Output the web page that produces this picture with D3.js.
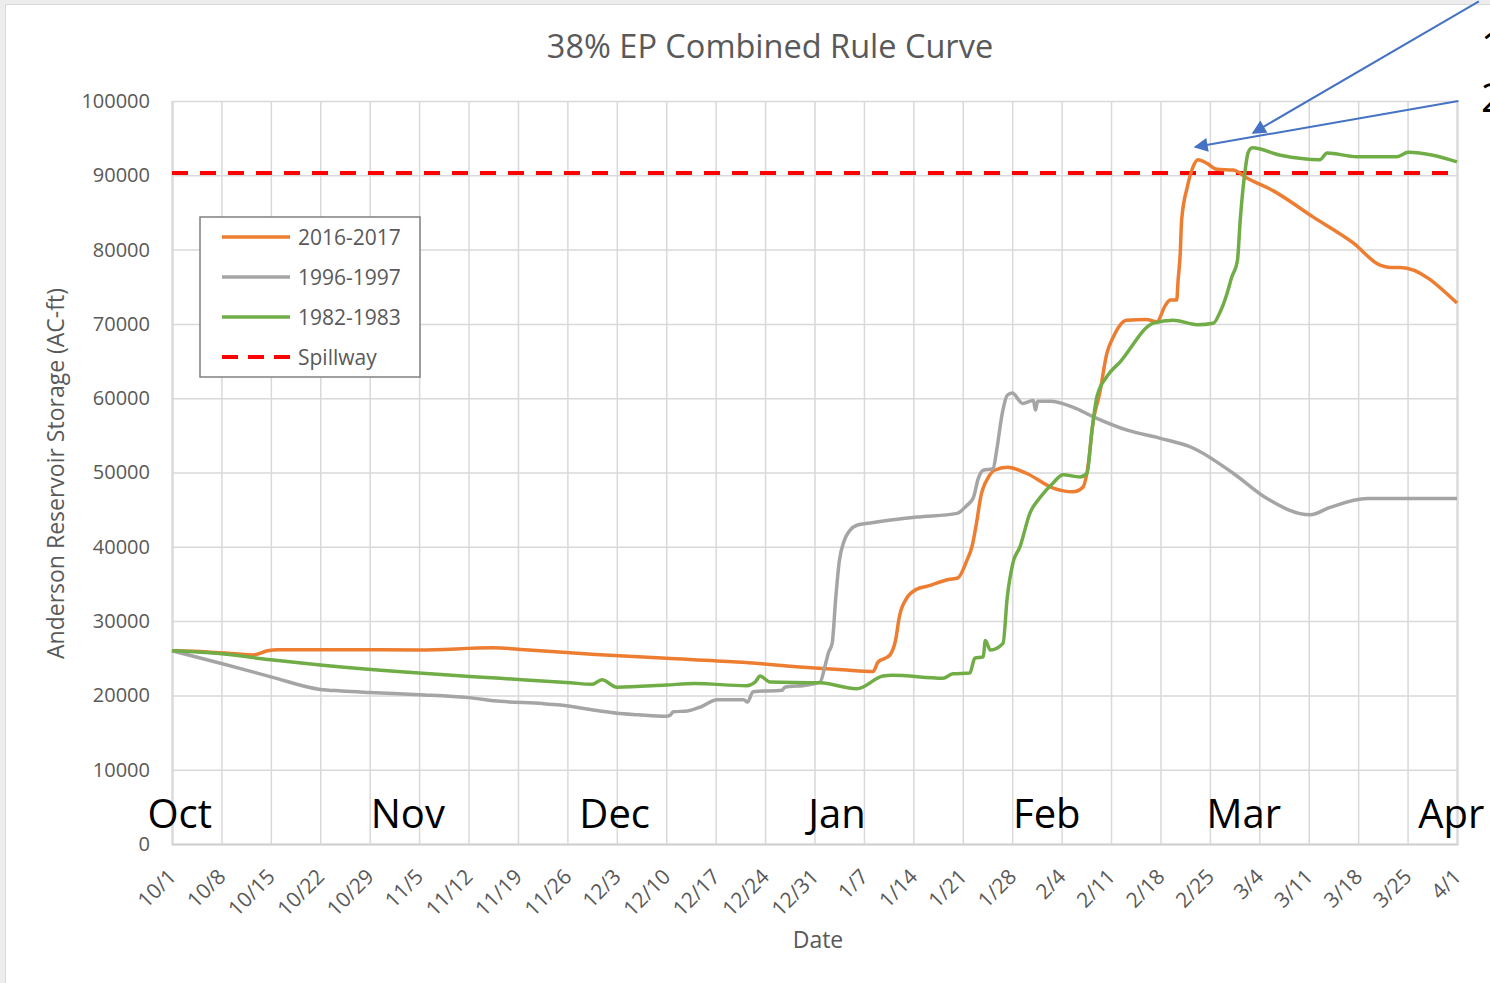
<!DOCTYPE html>
<html>
<head>
<meta charset="utf-8">
<script src="https://cdnjs.cloudflare.com/ajax/libs/d3/7.8.5/d3.min.js"></script>
<style>
  body { margin: 0; background: #ededed; overflow: hidden; }
  svg { display: block; font-family: "Open Sans", "Noto Sans", sans-serif; }
</style>
</head>
<body>
<div id="chart"></div>
<script>
// days since 10/1, storage in AC-ft
const storage1617 = [
  [0, 26000], [5, 25850], [9, 25600], [11.5, 25450], [13.5, 26000], [15, 26150], [25, 26150],
  [35, 26100], [45.5, 26400], [50, 26150], [60, 25500], [70, 25000], [80, 24500], [91, 23700],
  [95, 23450], [99.3, 23200], [100, 24500], [101, 25000], [101.7, 25450], [102.5, 27500],
  [103, 30500], [104, 33000], [105.5, 34300], [107, 34700], [110, 35600], [111.3, 35800],
  [112.6, 38200], [113.3, 40000], [114, 43500], [114.5, 46500], [115.6, 49300], [116.5, 50300],
  [118.3, 50700], [121, 49900], [124.8, 47900], [127.6, 47400], [129, 48000], [129.6, 50000],
  [130.5, 57000], [131.4, 60700], [132.4, 66000], [133.3, 68200], [135.2, 70500], [138, 70600],
  [139.5, 70300], [140.7, 72500], [141.4, 73200], [142.3, 73200], [142.5, 75900], [142.8, 79500],
  [143, 84000], [143.8, 88400], [144.6, 91100], [145.3, 92100], [146.6, 91600], [148, 90800],
  [150.3, 90700], [152.3, 89600], [156, 87900], [161.6, 84400], [167.3, 80900],
  [171.1, 77900], [172.5, 77600], [174, 77600], [182, 72800]
];
const storage9697 = [
  [0, 26000], [7, 24300], [14, 22500], [21, 20800], [24, 20600], [28, 20400], [35, 20100],
  [42, 19700], [46.5, 19200], [52.5, 18900], [55, 18700], [60.6, 17900], [63, 17600], [66, 17400],
  [70, 17200], [70.5, 17300], [71, 17800], [73, 17900], [75, 18500], [77.2, 19400], [81, 19400],
  [81.5, 19100], [82.3, 20500], [86.4, 20700], [86.8, 21100], [90, 21400], [91.8, 21800],
  [92.5, 24000], [93, 25800], [93.5, 27000], [94, 33000], [94.5, 38000], [95.2, 40800], [96, 42200],
  [97, 42900], [98.9, 43200], [105.5, 44000], [111.2, 44500], [112.5, 45500], [113.5, 46600],
  [114.2, 49200], [114.9, 50300], [116.3, 50500], [116.8, 53000], [117.6, 58000], [118.3, 60400],
  [119, 60700], [120.5, 59300], [122, 59700], [122.3, 58400], [122.6, 59600], [124.4, 59600],
  [127.6, 58800], [130.5, 57500], [135.3, 55700], [140, 54600], [144.6, 53300], [150.3, 49900],
  [155.1, 46500], [161.2, 44300], [164, 45300], [169.3, 46500], [182, 46500]
];
const storage8283 = [
  [0, 26000], [7, 25600], [14, 24800], [21, 24100], [35, 23000], [46.5, 22300], [56.4, 21700],
  [59.5, 21500], [60.9, 22100], [63, 21100], [70, 21400], [74, 21600], [81.4, 21300], [82.6, 21800],
  [83.3, 22600], [84.7, 21800], [91.8, 21700], [97, 20900], [100.7, 22600], [102, 22700],
  [109.2, 22300], [110.6, 22900], [113, 23000], [113.7, 25000], [114.9, 25200], [115.2, 27400],
  [115.9, 26100], [117.7, 27000], [118.3, 33200], [119.1, 37800], [120.1, 40000], [121.5, 44500],
  [123, 46700], [124.8, 48600], [126.2, 49700], [128.6, 49400], [129.6, 49900], [130.3, 55700],
  [131, 60200], [132.4, 62900], [134.3, 64900], [139, 70100], [141.8, 70500], [145.2, 69900],
  [147.5, 70100], [148.4, 71500], [149.4, 74000], [150.1, 76300], [150.9, 78500], [151.3, 84000],
  [152, 90700], [152.4, 93000], [153, 93700], [157, 92700], [162.6, 92100], [163.6, 93000],
  [167.8, 92500], [173.5, 92500], [175.1, 93100], [178.6, 92700], [182, 91800]
];
const spillway = 90300;

const seriesNames = ["2016-2017", "1996-1997", "1982-1983"];
const seriesData = [storage1617, storage9697, storage8283];
const seriesColors = ["#ED7D31", "#A5A5A5", "#70AD47"];

const xTickDays = d3.range(0, 183, 7);
const xTickLabels = ["10/1", "10/8", "10/15", "10/22", "10/29", "11/5", "11/12", "11/19", "11/26",
  "12/3", "12/10", "12/17", "12/24", "12/31", "1/7", "1/14", "1/21", "1/28", "2/4", "2/11",
  "2/18", "2/25", "3/4", "3/11", "3/18", "3/25", "4/1"];
const yTicks = d3.range(0, 100001, 10000);

const monthNames = ["Oct", "Nov", "Dec", "Jan", "Feb", "Mar", "Apr"];
const monthLabelDays = [1.1, 33.4, 62.7, 94.2, 123.9, 151.8, 181.2];

// annotation arrows: [tail day, tail value, tip day, tip value]
const arrows = [
  [185.1, 113400, 153.1, 95700],
  [182.2, 100000, 144.9, 93800]
];
const sideText = ["1", "1", "2"];

const W = 1490, H = 983;
const svg = d3.select("#chart").append("svg")
  .attr("width", W)
  .attr("height", H);

svg.append("rect")
  .attr("x", 5.5).attr("y", 4.5)
  .attr("width", W).attr("height", H)
  .attr("fill", "#fff")
  .attr("stroke", "#d9d9d9");

const x = d3.scaleLinear().domain([0, 182]).range([172, 1457]);
const y = d3.scaleLinear().domain([0, 100000]).range([844, 101]);
const textGray = "#595959";

// horizontal grid + y labels
const yAxis = svg.append("g")
  .attr("transform", `translate(${x(0)},0)`)
  .call(d3.axisLeft(y).tickValues(yTicks).tickSize(-(x(182) - x(0))).tickPadding(22).tickFormat(d3.format("d")));
yAxis.select(".domain").remove();
yAxis.selectAll("line").attr("stroke", "#d9d9d9").attr("stroke-width", 1.5);
yAxis.selectAll("text").attr("fill", textGray).attr("font-size", 20).attr("font-family", "Open Sans");

// vertical grid + x labels
const xAxis = svg.append("g")
  .attr("transform", `translate(0,${y(0)})`)
  .call(d3.axisBottom(x).tickValues(xTickDays).tickSize(-(y(0) - y(100000))).tickFormat((d, i) => xTickLabels[i]));
xAxis.select(".domain").attr("stroke", "#d0d0d0").attr("stroke-width", 2);
xAxis.selectAll("line").attr("stroke", "#d9d9d9").attr("stroke-width", 1.5);
xAxis.selectAll("text")
  .attr("fill", textGray)
  .attr("font-size", 21)
  .attr("font-family", "Open Sans")
  .attr("text-anchor", "end")
  .attr("x", 0).attr("y", 0).attr("dy", null)
  .attr("transform", "translate(5,34) rotate(-45)");

// month labels
svg.append("g").selectAll("text")
  .data(monthNames)
  .enter().append("text")
  .attr("x", (d, i) => x(monthLabelDays[i]))
  .attr("y", y(0) - 16)
  .attr("text-anchor", "middle")
  .attr("font-size", 40)
  .attr("fill", "#000")
  .text(d => d);

// spillway
svg.append("line")
  .attr("x1", x(0)).attr("x2", x(182))
  .attr("y1", y(spillway)).attr("y2", y(spillway))
  .attr("stroke", "#ff0000")
  .attr("stroke-width", 4)
  .attr("stroke-dasharray", "16,12");

// series
const line = d3.line()
  .x(d => x(d[0]))
  .y(d => y(d[1]))
  .curve(d3.curveMonotoneX);
svg.append("g").selectAll("path")
  .data(seriesData)
  .enter().append("path")
  .attr("d", line)
  .attr("fill", "none")
  .attr("stroke", (d, i) => seriesColors[i])
  .attr("stroke-width", 3.5)
  .attr("stroke-linejoin", "round");

// title and axis titles
svg.append("text")
  .attr("x", 770).attr("y", 58)
  .attr("text-anchor", "middle")
  .attr("font-size", 32.5)
  .attr("fill", textGray)
  .text("38% EP Combined Rule Curve");
svg.append("text")
  .attr("transform", `translate(64,${(y(0) + y(100000)) / 2 + 1}) rotate(-90)`)
  .attr("text-anchor", "middle")
  .attr("font-size", 23)
  .attr("fill", textGray)
  .text("Anderson Reservoir Storage (AC-ft)");
svg.append("text")
  .attr("x", 818).attr("y", 948)
  .attr("text-anchor", "middle")
  .attr("font-size", 23)
  .attr("fill", textGray)
  .text("Date");

// legend
const legend = svg.append("g").attr("transform", "translate(200,217)");
legend.append("rect")
  .attr("width", 220).attr("height", 160)
  .attr("fill", "#fff")
  .attr("stroke", "#808080")
  .attr("stroke-width", 1.5);
const legendItems = seriesNames.concat(["Spillway"]);
const legendColors = seriesColors.concat(["#ff0000"]);
const li = legend.selectAll(".item")
  .data(legendItems)
  .enter().append("g")
  .attr("class", "item")
  .attr("transform", (d, i) => `translate(0,${20 + i * 40})`);
li.append("line")
  .attr("x1", 22).attr("x2", 90)
  .attr("stroke", (d, i) => legendColors[i])
  .attr("stroke-width", (d, i) => i === 3 ? 4 : 3.5)
  .attr("stroke-dasharray", (d, i) => i === 3 ? "16,10" : null);
li.append("text")
  .attr("x", 98).attr("y", 8)
  .attr("font-size", 21)
  .attr("fill", textGray)
  .text(d => d);

// arrows
const defs = svg.append("defs");
defs.append("marker")
  .attr("id", "arrowhead")
  .attr("viewBox", "0 0 10 10")
  .attr("refX", 9).attr("refY", 5)
  .attr("markerWidth", 9).attr("markerHeight", 7)
  .attr("markerUnits", "strokeWidth")
  .attr("orient", "auto")
  .append("path")
  .attr("d", "M0,0 L10,5 L0,10 Z")
  .attr("fill", "#4472C4");
svg.append("g").selectAll("line")
  .data(arrows)
  .enter().append("line")
  .attr("x1", d => x(d[0])).attr("y1", d => y(d[1]))
  .attr("x2", d => x(d[2])).attr("y2", d => y(d[3]))
  .attr("stroke", "#4472C4")
  .attr("stroke-width", 2)
  .attr("marker-end", "url(#arrowhead)");

svg.append("g").selectAll("text")
  .data(sideText)
  .enter().append("text")
  .attr("x", 1481)
  .attr("y", (d, i) => 8 + i * 52)
  .attr("font-size", 40)
  .attr("fill", "#000")
  .text(d => d);
</script>
</body>
</html>
